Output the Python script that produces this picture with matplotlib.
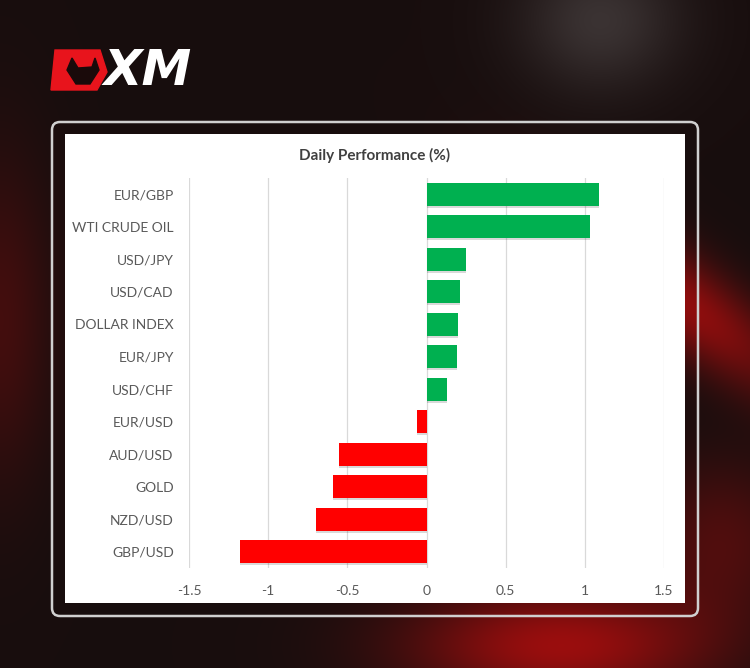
import numpy as np
import matplotlib
matplotlib.use("Agg")
import matplotlib.pyplot as plt
from matplotlib.patches import FancyBboxPatch, Rectangle, Polygon

plt.rcParams['font.family'] = ['Lato', 'DejaVu Sans']

# data
instruments = ["EUR/GBP", "WTI CRUDE OIL", "USD/JPY", "USD/CAD", "DOLLAR INDEX",
               "EUR/JPY", "USD/CHF", "EUR/USD", "AUD/USD", "GOLD", "NZD/USD", "GBP/USD"]
perf = [1.09, 1.03, 0.25, 0.21, 0.20, 0.19, 0.13, -0.06, -0.55, -0.59, -0.70, -1.18]
xticks = [-1.5, -1, -0.5, 0, 0.5, 1, 1.5]
xlabels = ["-1.5", "-1", "-0.5", "0", "0.5", "1", "1.5"]

W, H = 750, 668
fig = plt.figure(figsize=(W / 100, H / 100), dpi=100)

# dark background with red glow
bg = fig.add_axes([0, 0, 1, 1])
yy, xx = np.mgrid[0:H, 0:W]
def blob(cx, cy, sx, sy):
    return np.exp(-(((xx - cx) / sx) ** 2 + ((yy - cy) / sy) ** 2))
# diagonal streak on the right
streak = np.exp(-((((xx - 680) * 0.6 - (yy - 300) * 0.8)) / 45) ** 2) * blob(680, 300, 140, 160)
red = 0.05 + 0.6 * blob(560, 645, 150, 60) + 0.55 * streak \
    + 0.2 * blob(0, 320, 50, 160) + 0.25 * blob(720, 540, 80, 80)
gray = 0.06 + 0.16 * blob(600, 20, 80, 70)
img = np.zeros((H, W, 3))
img[..., 0] = np.clip(red + gray, 0, 1) * 0.85
img[..., 1] = np.clip(gray, 0, 1) * 0.9
img[..., 2] = np.clip(gray, 0, 1) * 0.9
bg.imshow(img, extent=(0, W, H, 0), aspect='auto')
bg.set_xlim(0, W)
bg.set_ylim(H, 0)
bg.axis('off')

# XM logo
bg.add_patch(Polygon([(55, 50), (100, 50), (107, 72), (97, 90), (51, 90)],
                     closed=True, color='#e8141c'))
bg.add_patch(Polygon([(72, 58), (78, 68), (92, 67), (95, 58), (99, 70), (90, 84), (76, 84), (67, 70)],
                     closed=True, color='#1a0a0a'))
bg.text(104, 71, "XM", color='white', fontsize=36, fontweight='bold',
        fontstyle='italic', va='center', ha='left', family=['DejaVu Sans'])

# panel frame and white chart area
bg.add_patch(FancyBboxPatch((52, 122), 646, 494, boxstyle="round,pad=0,rounding_size=8",
                            facecolor='none', edgecolor='#d0d0d0', linewidth=1.8))
bg.add_patch(Rectangle((65, 134), 620, 469, facecolor='white', edgecolor='none'))
bg.text(375, 155, "Daily Performance (%)", ha='center', va='center',
        fontsize=11, fontweight='bold', color='#404040')

# bar chart
ax = fig.add_axes([189 / W, 1 - 568 / H, 475 / W, 390 / H])
ypos = np.arange(len(instruments))
colors = ['#00b050' if v >= 0 else '#ff0000' for v in perf]
# soft shadow
ax.barh(ypos + 0.06, perf, height=0.7, color='#000000', alpha=0.15, zorder=2)
ax.barh(ypos, perf, height=0.7, color=colors, zorder=3)
ax.set_xlim(-1.5, 1.5)
ax.set_ylim(len(instruments) - 0.5, -0.5)
ax.set_xticks(xticks)
ax.set_xticklabels(xlabels)
ax.set_yticks(ypos)
ax.set_yticklabels(instruments)
ax.grid(axis='x', color='#d9d9d9', linewidth=0.9, zorder=0)
ax.set_axisbelow(True)
for s in ax.spines.values():
    s.set_visible(False)
ax.tick_params(axis='both', length=0, labelsize=10, labelcolor='#595959')
ax.tick_params(axis='y', pad=11)
ax.tick_params(axis='x', pad=12)
ax.set_facecolor('white')

fig.savefig("out.png", dpi=100)
